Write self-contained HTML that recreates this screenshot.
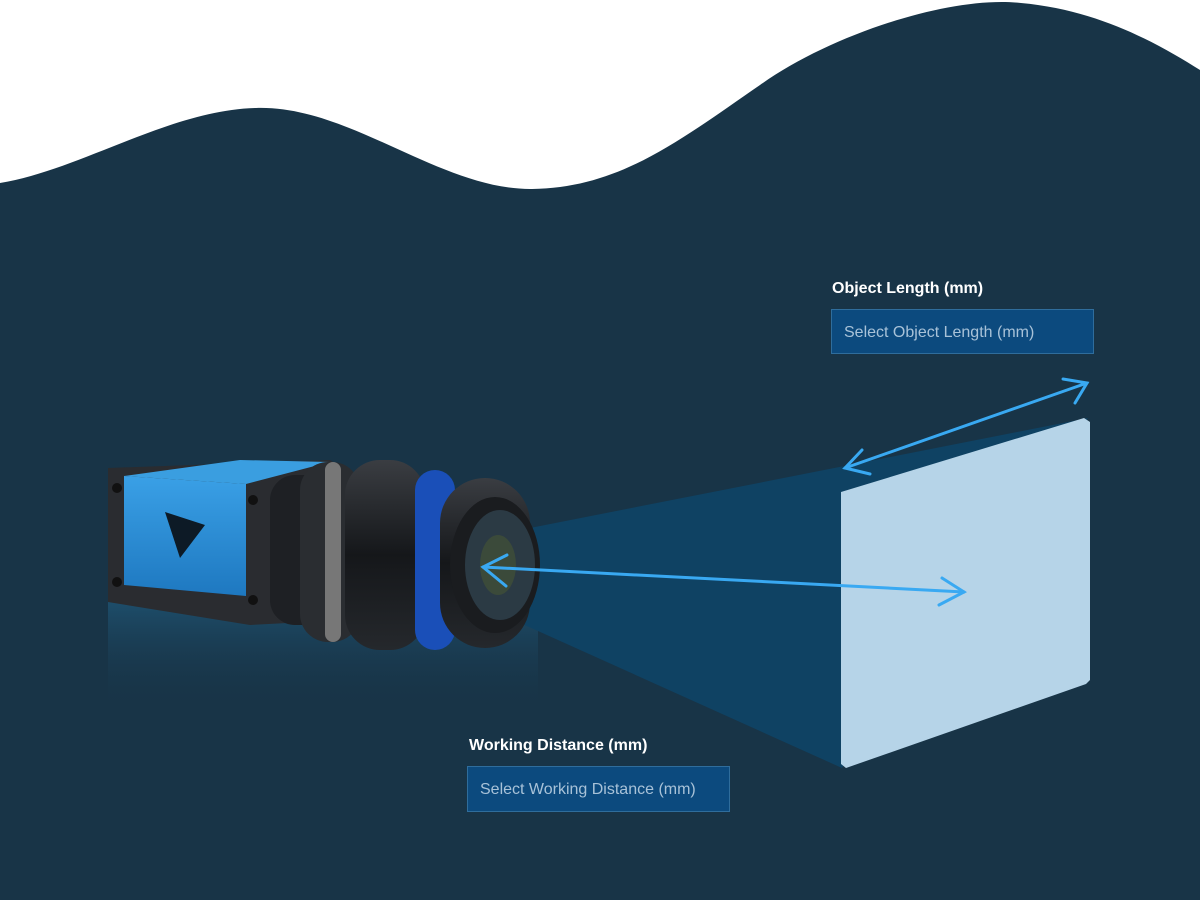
<!DOCTYPE html>
<html><head><meta charset="utf-8"><style>
html,body{margin:0;padding:0;background:#fff}
svg{display:block}
text{font-family:"Liberation Sans",sans-serif}
</style></head><body>
<svg width="1200" height="900" viewBox="0 0 1200 900" xmlns="http://www.w3.org/2000/svg">
<defs>
<linearGradient id="body" x1="0" y1="0" x2="0" y2="1"><stop offset="0" stop-color="#3aa0e6"/><stop offset="1" stop-color="#1e78c0"/></linearGradient>
<linearGradient id="lens" x1="0" y1="0" x2="0" y2="1"><stop offset="0" stop-color="#3a3d42"/><stop offset="0.5" stop-color="#15171a"/><stop offset="1" stop-color="#25282c"/></linearGradient>
<linearGradient id="refl" x1="0" y1="0" x2="0" y2="1"><stop offset="0" stop-color="#1f5575" stop-opacity="0.8"/><stop offset="1" stop-color="#183447" stop-opacity="0"/></linearGradient>
</defs>
<rect width="1200" height="900" fill="#183447"/>
<path d="M0,183 C80,170 170,110 256,108 C350,105 440,190 532,189 C620,188 680,140 760,85 C830,35 950,-5 1021,3 C1100,10 1160,45 1200,70 V0 H0 Z" fill="#fff"/>
<!-- reflection -->
<rect x="108" y="600" width="430" height="110" fill="url(#refl)"/>
<!-- beam -->
<polygon points="530,528 1088,418 842,768 518,622" fill="#0f4263"/>
<!-- panel -->
<polygon points="841,492 1084,418 1090,422 1090,680 1086,684 846,768 841,764" fill="#b6d4e8"/>
<!-- camera body -->
<polygon points="108,468 330,460 345,470 345,620 250,625 108,602" fill="#2a2c30"/>
<polygon points="124,476 246,484 246,596 124,585" fill="url(#body)"/>
<polygon points="124,476 240,460 330,462 246,484" fill="#3a9ee0"/>
<polygon points="165,512 205,525 180,558" fill="#0d1a26"/>
<circle cx="117" cy="488" r="5" fill="#111"/><circle cx="117" cy="582" r="5" fill="#111"/>
<circle cx="253" cy="500" r="5" fill="#111"/><circle cx="253" cy="600" r="5" fill="#111"/>
<!-- lens barrels -->
<rect x="270" y="475" width="60" height="150" rx="25" fill="#1e2024"/>
<rect x="300" y="462" width="60" height="180" rx="28" fill="#2a2d31"/>
<rect x="325" y="462" width="16" height="180" rx="8" fill="#777"/>
<rect x="345" y="460" width="80" height="190" rx="35" fill="url(#lens)"/>
<rect x="415" y="470" width="40" height="180" rx="20" fill="#1a4fb8"/>
<rect x="440" y="478" width="90" height="170" rx="45" fill="url(#lens)"/>
<ellipse cx="495" cy="565" rx="45" ry="68" fill="#1a1c1f"/>
<ellipse cx="500" cy="565" rx="35" ry="55" fill="#2b3a44"/>
<ellipse cx="498" cy="565" rx="18" ry="30" fill="#3b4a3a"/>
<!-- arrows -->
<g stroke="#39a9f2" stroke-width="3" fill="none" stroke-linecap="round">
<line x1="845" y1="468" x2="1087" y2="383"/>
<polyline points="862,450 845,468 870,474"/>
<polyline points="1063,379 1087,383 1075,403"/>
<line x1="483" y1="567" x2="964" y2="592"/>
<polyline points="507,555 483,567 506,586"/>
<polyline points="942,578 964,592 939,605"/>
</g>
<!-- labels -->
<text x="832" y="293" font-size="16" font-weight="bold" fill="#fff">Object Length (mm)</text>
<rect x="831.5" y="309.5" width="262" height="44" fill="#0c4a7e" stroke="#2f6d9c"/>
<text x="844" y="337" font-size="16" fill="#a8c2d8">Select Object Length (mm)</text>
<text x="469" y="750" font-size="16" font-weight="bold" fill="#fff">Working Distance (mm)</text>
<rect x="467.5" y="766.5" width="262" height="45" fill="#0c4a7e" stroke="#2f6d9c"/>
<text x="480" y="794" font-size="16" fill="#a8c2d8">Select Working Distance (mm)</text>
</svg>
</body></html>
